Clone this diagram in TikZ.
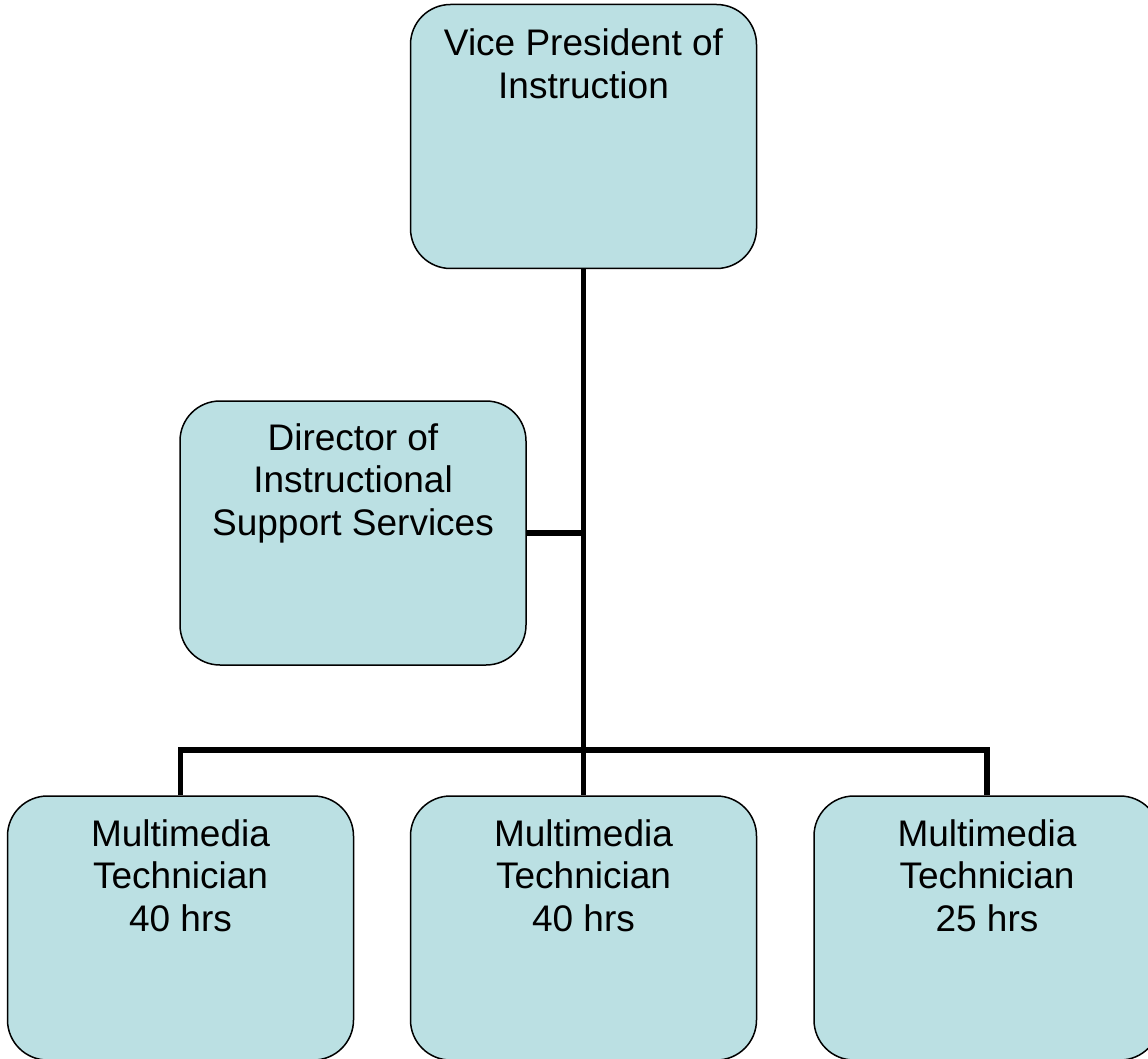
\documentclass[tikz,border=0pt]{standalone}
\usepackage{fontspec}
\setmainfont{Liberation Sans}
\definecolor{boxfill}{HTML}{BBE0E3}
\tikzset{
  post/.style={draw=black, line width=1.5pt, fill=boxfill, rounded corners=40pt,
    minimum width=346pt, minimum height=264pt, inner sep=0pt},
  posttext/.style={anchor=north, align=center, inner sep=0pt,
    font=\fontsize{37}{42.5}\selectfont},
  link/.style={line width=5.5pt}
}
\begin{document}
\begin{tikzpicture}[x=1pt,y=-1pt]
    \useasboundingbox (0,0) rectangle (1148,1059);
    % boxes
    \node[post] (vp) at (583.5,136.5) {};
    \node[post] (dir) at (353,533) {};
    \node[post] (techa) at (180.5,928) {};
    \node[post] (techb) at (583.5,928) {};
    \node[post] (techc) at (987,928) {};
    % texts
    \node[posttext] (vplabel) at ([yshift=-25pt]vp.north) {Vice President of\\Instruction};
    \node[posttext] (dirlabel) at ([yshift=-23pt]dir.north) {Director of\\Instructional\\Support Services};
    \node[posttext] (techalabel) at ([yshift=-24pt]techa.north) {Multimedia\\Technician\\40 hrs};
    \node[posttext] (techblabel) at ([yshift=-24pt]techb.north) {Multimedia\\Technician\\40 hrs};
    \node[posttext] (techclabel) at ([yshift=-24pt]techc.north) {Multimedia\\Technician\\25 hrs};
    % lines
    \coordinate (bus) at (583.5,750);
    \draw[link] (vp.south) -- (techb.north);
    \draw[link] (dir.east) -- (dir.east -| vp.south);
    \draw[link] (techa.north) |- (bus) -| (techc.north);
\end{tikzpicture}
\end{document}
